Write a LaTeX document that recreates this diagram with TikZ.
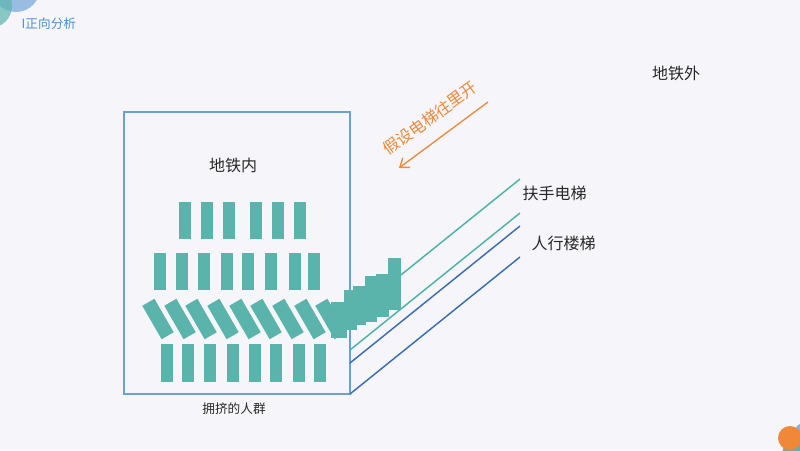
\documentclass[tikz,border=0pt]{standalone}
\usepackage{fontspec}
\newfontfamily\cjk{Noto Sans CJK SC}
\usetikzlibrary{arrows.meta}

\definecolor{bgcol}{RGB}{246,246,250}
\definecolor{crowd}{RGB}{90,180,172}
\definecolor{boxblue}{RGB}{107,159,214}
\definecolor{escteal}{RGB}{77,179,166}
\definecolor{stairblue}{RGB}{59,109,181}
\definecolor{hintorange}{RGB}{240,136,58}
\definecolor{headblue}{RGB}{74,143,216}
\definecolor{textdark}{RGB}{40,40,40}

\tikzset{
  person/.style={fill=crowd, draw=none},
  tilted/.style={fill=crowd, draw=none, minimum width=10.5pt, minimum height=29pt, inner sep=0pt, rotate=30},
  lbl/.style={font=\cjk\fontsize{12}{14}\selectfont, text=textdark},
  escline/.style={color=escteal, line width=1.1pt},
  stairline/.style={color=stairblue, line width=1.1pt}
}

\begin{document}
\begin{tikzpicture}[x=0.75pt,y=0.75pt,yscale=-1]
%set diagram to 800 x 450
\fill[bgcol] (0,0) rectangle (800,450);
\useasboundingbox (0,0) rectangle (800,450);

%Shape: corner circles
\begin{scope}
\clip (0,0) rectangle (800,450);
\fill[boxblue!80, opacity=0.85] (16,-12) circle (24);
\fill[crowd, opacity=0.7] (-10,6) circle (22);
\fill[boxblue!80] (806,434) circle (12);
\fill[crowd] (795,454) circle (13);
\fill[hintorange] (790,438) circle (12);
\end{scope}

% Text Node
\node[font=\cjk\fontsize{9.5}{11}\selectfont, text=headblue, anchor=west] (head) at (17,24) {I正向分析};

%Shape: Rectangle (inside)
\draw[boxblue, line width=1.2pt] (124,112) rectangle (350,394);

%Straight Lines (escalators and stairs)
\draw[escline] (350,316) -- (520,179);
\draw[escline] (350,350) -- (520,213);
\draw[stairline] (350,363) -- (520,226);
\draw[stairline] (350,394) -- (520,257);

%Crowd rows
\foreach \x in {179,201,223,250,272,294}
  \fill[person] (\x,202) rectangle ++(12,37);
\foreach \x in {154,176,198,221,242,265,289,308}
  \fill[person] (\x,253) rectangle ++(12,37);
\foreach \x in {158,180,201,223,245,266,288,310,331}
  \node[tilted] at (\x,319) {};
\foreach \x in {161,182,204,227,249,270,293,314}
  \fill[person] (\x,344) rectangle ++(12,38);

%Crowd pushing out
\fill[person] (331,302) rectangle (347,338);
\fill[person] (344,290) rectangle (357,330);
\fill[person] (353,286) rectangle (366,325);
\fill[person] (365,276) rectangle (377,322);
\fill[person] (376,274) rectangle (389,317);
\fill[person] (388,258) rectangle (401,310);

%Arrow
\coordinate (arrowfrom) at (488,102);
\coordinate (arrowto) at (399,168);
\draw[hintorange, line width=1pt, -{Straight Barb[length=6pt,width=9pt]}] (arrowfrom) -- (arrowto);

% Text Node
\node[lbl] (inside) at (233,165) {地铁内};
% Text Node
\node[lbl] (outside) at (676,73) {地铁外};
% Text Node
\node[lbl, anchor=west] (escalator) at (518,193) {扶手电梯};
% Text Node
\node[lbl, anchor=west] (stairs) at (527,243) {人行楼梯};
% Text Node
\node[font=\cjk\fontsize{9.5}{11}\selectfont, text=textdark] (crowdlbl) at (234,409) {拥挤的人群};
% Text Node
\node[font=\cjk\fontsize{12}{14}\selectfont, text=hintorange, rotate=36] (hint) at (430,118) {假设电梯往里开};

\end{tikzpicture}
\end{document}
